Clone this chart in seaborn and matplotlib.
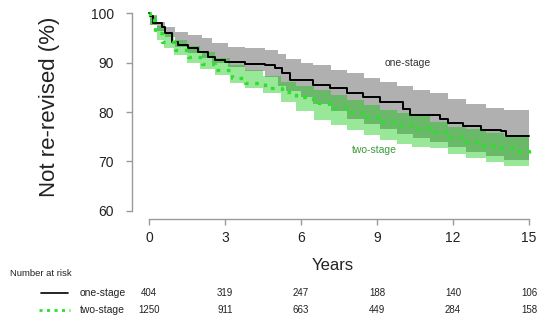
import seaborn as sns
import matplotlib.pyplot as plt
import matplotlib.transforms as mtransforms
from matplotlib.lines import Line2D

# Kaplan-Meier estimates (years, % not re-revised)
one_t = [0, 0.04, 0.17, 0.5, 0.63, 0.9, 1.16, 1.55, 1.95, 2.34, 2.6, 3.0, 3.79, 4.58, 4.97,
         5.24, 5.57, 6.49, 7.15, 7.8, 8.46, 9.12, 10.04, 10.3, 11.5, 11.8, 12.4, 13.1, 13.9,
         14.1, 15]
one_s = [100, 99.3, 97.9, 97.2, 95.9, 94.2, 93.5, 92.9, 92.2, 91.2, 90.5, 90.2, 89.8, 89.5, 88.8,
         87.8, 86.5, 85.5, 84.8, 83.8, 83.1, 82.1, 80.7, 79.4, 78.6, 77.7, 77.2, 76.4, 76.2,
         75.1, 75.1]

two_t = [0, 0.04, 0.24, 0.5, 1.03, 1.55, 2.08, 2.6, 3.26, 3.79, 4.58, 5.24, 5.8, 6.49, 7.1,
         7.8, 8.4, 9.12, 9.8, 10.43, 11.1, 11.8, 12.5, 13.2, 13.9, 14.5, 15]
two_s = [100, 98.6, 95.9, 94.2, 92.5, 91.2, 89.8, 88.5, 86.8, 85.8, 84.8, 84.1, 83.0, 81.8, 80.8,
         80.1, 79.0, 78.0, 77.3, 76.7, 76.0, 75.0, 74.0, 73.2, 72.7, 72.1, 71.7]

# 95% confidence bands
one_ci_t = [0, 0.04, 0.3, 0.63, 1.03, 1.55, 2.08, 2.47, 3.13, 3.79, 4.58, 5.1, 5.4, 6.0, 6.49,
            7.2, 7.8, 8.5, 9.12, 9.8, 10.43, 11.1, 11.8, 12.5, 13.3, 14.0, 15]
one_ci_hi = [100, 99.6, 98.2, 97.2, 96.2, 95.6, 94.9, 93.9, 93.2, 92.9, 92.5, 91.8, 90.8, 90.0,
             89.5, 88.5, 87.8, 86.9, 86.1, 85.2, 84.4, 83.8, 82.6, 81.6, 80.9, 80.4, 80.4]
one_ci_lo = [100, 97.6, 96.4, 95.2, 93.2, 91.9, 91.0, 89.9, 89.1, 88.2, 87.0, 85.3, 84.3, 83.0,
             81.6, 80.3, 78.6, 77.5, 76.5, 75.6, 74.8, 74.0, 72.9, 72.0, 71.1, 70.3, 70.3]

two_ci_t = [0, 0.05, 0.3, 0.6, 1.0, 1.5, 2.0, 2.6, 3.2, 3.8, 4.5, 5.2, 5.8, 6.5, 7.2, 7.8,
            8.5, 9.1, 9.8, 10.4, 11.1, 11.8, 12.5, 13.3, 14.0, 15]
two_ci_hi = [100, 99.3, 97.3, 96.0, 94.6, 93.4, 92.2, 91.0, 89.5, 88.4, 87.3, 86.1, 85.2, 84.4,
             83.4, 82.4, 81.4, 80.4, 79.7, 79.1, 78.0, 77.0, 76.5, 75.8, 75.0, 75.0]
two_ci_lo = [100, 97.5, 94.6, 93.0, 91.5, 90.0, 88.7, 87.4, 85.8, 84.8, 83.8, 82.0, 80.2, 78.4,
             77.3, 76.4, 75.3, 74.3, 73.6, 73.0, 72.7, 71.6, 70.8, 69.8, 69.0, 68.3]

# number at risk table
risk_years = [0, 3, 6, 9, 12, 15]
risk_one = [404, 319, 247, 188, 140, 106]
risk_two = [1250, 911, 663, 449, 284, 158]

sns.set_style("ticks")
plt.rcParams["font.family"] = ["Liberation Sans", "DejaVu Sans"]

fig = plt.figure(figsize=(5.5, 3.23), dpi=100)
ax = fig.add_axes([0.24, 0.322, 0.731, 0.653])

grey = "#b0b0b0"
green = "#2ee02e"

ax.fill_between(one_ci_t, one_ci_lo, one_ci_hi, step="post", color=grey, lw=0)
ax.fill_between(two_ci_t, two_ci_lo, two_ci_hi, step="post", color=(0, 0.78, 0), alpha=0.4, lw=0)

sns.lineplot(x=one_t, y=one_s, ax=ax, drawstyle="steps-post", color="black", lw=1.4)
sns.lineplot(x=two_t, y=two_s, ax=ax, drawstyle="steps-post", color=green, lw=2.4,
             linestyle=(0, (1.1, 2.0)))

ax.text(10.2, 90.0, "one-stage", fontsize=7.5, color="#333333", ha="center", va="center")
ax.text(8.9, 72.4, "two-stage", fontsize=7.5, color="#3a9a3a", ha="center", va="center")

ax.set_xlim(-0.67, 15.2)
ax.set_ylim(58.38, 101)
ax.set_xticks(risk_years)
ax.set_yticks([60, 70, 80, 90, 100])
for side in ["top", "right"]:
    ax.spines[side].set_visible(False)
ax.spines["left"].set_bounds(60, 100)
ax.spines["bottom"].set_bounds(0, 15)
for side in ["left", "bottom"]:
    ax.spines[side].set_color("#9a9a9a")
    ax.spines[side].set_linewidth(1)
ax.tick_params(axis="both", direction="out", length=4, width=1, color="#9a9a9a",
               labelcolor="#222222", bottom=True, left=True)
ax.tick_params(axis="x", labelsize=10, pad=5)
ax.tick_params(axis="y", labelsize=10, pad=9)

ax.set_xlabel("Years", fontsize=12, color="#222222", labelpad=9)
ax.set_ylabel("Not re-revised (%)", fontsize=16, color="#222222")
ax.yaxis.set_label_coords(-0.18, 0.53)

# number at risk table
def fy(py):
    return 1 - py / 323

fig.text(10 / 550, fy(273), "Number at risk", fontsize=6.8, color="#222222", va="center")
fig.add_artist(Line2D([41 / 550, 68 / 550], [fy(293), fy(293)], color="black", lw=1.2))
fig.add_artist(Line2D([39 / 550, 70 / 550], [fy(310), fy(310)], color=green, lw=2.0,
                      linestyle=(0, (1.1, 1.6))))
fig.text(80 / 550, fy(293), "one-stage", fontsize=7.5, color="#222222", va="center")
fig.text(80 / 550, fy(310), "two-stage", fontsize=7.5, color="#222222", va="center")

trans = mtransforms.blended_transform_factory(ax.transData, fig.transFigure)
for yr, a, b in zip(risk_years, risk_one, risk_two):
    ax.text(yr, fy(293), str(a), transform=trans, fontsize=7, color="#222222",
            ha="center", va="center")
    ax.text(yr, fy(310), str(b), transform=trans, fontsize=7, color="#222222",
            ha="center", va="center")

fig.savefig("out.png", dpi=100)
